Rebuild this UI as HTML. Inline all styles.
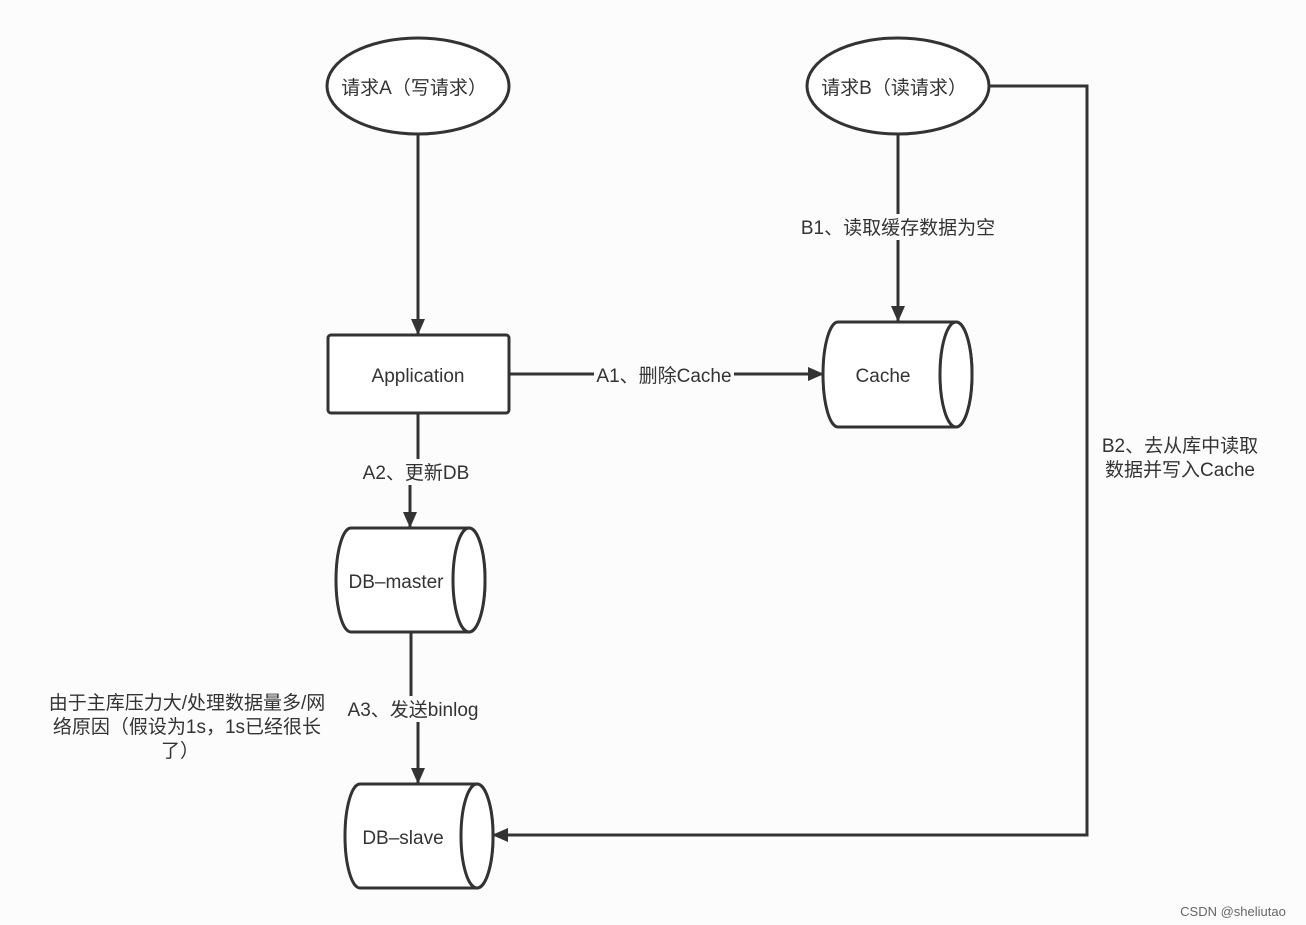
<html><body style="margin:0;background:#fcfcfc">
<svg width="1306" height="925" xmlns="http://www.w3.org/2000/svg" style="font-family:'Liberation Sans','Noto Sans CJK SC',sans-serif">
<defs>
<marker id="b" viewBox="0 0 16 14" markerWidth="16" markerHeight="14" refX="15" refY="7" orient="auto" markerUnits="userSpaceOnUse"><path d="M0,0 L16,7 L0,14 Z" fill="#333"/></marker></defs>
<g stroke="#333" stroke-width="3" fill="none">
<line x1="418" y1="134" x2="418" y2="334" marker-end="url(#b)"/>
<line x1="898" y1="134" x2="898" y2="321" marker-end="url(#b)"/>
<line x1="510" y1="374" x2="823" y2="374" marker-end="url(#b)"/>
<polyline points="418,413 418,480 410,480 410,527" marker-end="url(#b)"/>
<polyline points="411,632 411,705 418,705 418,783" marker-end="url(#b)"/>
<polyline points="990,86 1087,86 1087,835 493,835" marker-end="url(#b)"/>
</g>
<g stroke="#333" stroke-width="3" fill="#fff">
<ellipse cx="418" cy="86" rx="91" ry="48"/>
<ellipse cx="898" cy="86" rx="91" ry="48"/>
<rect x="328" y="335" width="181" height="78" rx="3"/>
<path d="M838,322 L956,322 A16,52.5 0 0 1 956,427 L838,427 A15,52.5 0 0 1 838,322 Z"/>
<ellipse cx="956" cy="374.5" rx="16" ry="52.5"/>
<path d="M351,528 L469,528 A16,52 0 0 1 469,632 L351,632 A15,52 0 0 1 351,528 Z"/>
<ellipse cx="469" cy="580" rx="16" ry="52"/>
<path d="M360,784 L477,784 A16,52 0 0 1 477,888 L360,888 A15,52 0 0 1 360,784 Z"/>
<ellipse cx="477" cy="836" rx="16" ry="52"/>
</g>
<g fill="#fcfcfc"><rect x="796" y="214" width="204" height="26"/><rect x="594" y="363" width="140" height="24"/><rect x="358" y="459" width="116" height="26"/><rect x="342" y="696" width="142" height="26"/></g>
<g font-size="19" fill="#333" text-anchor="middle">
<text x="414" y="94">请求A（写请求）</text>
<text x="894" y="94">请求B（读请求）</text>
<text x="418" y="382">Application</text>
<text x="883" y="382">Cache</text>
<text x="396" y="588">DB–master</text>
<text x="403" y="844">DB–slave</text>
<text x="898" y="234">B1、读取缓存数据为空</text>
<text x="664" y="382">A1、删除Cache</text>
<text x="416" y="479">A2、更新DB</text>
<text x="413" y="716">A3、发送binlog</text>
<text x="1180" y="452">B2、去从库中读取</text>
<text x="1180" y="476">数据并写入Cache</text>
<text x="187" y="709">由于主库压力大/处理数据量多/网</text>
<text x="187" y="733">络原因（假设为1s，1s已经很长</text>
<text x="180" y="757">了）</text>
</g>
<text x="1233" y="916" font-size="13" fill="#666" text-anchor="middle">CSDN @sheliutao</text>
</svg>
</body></html>
